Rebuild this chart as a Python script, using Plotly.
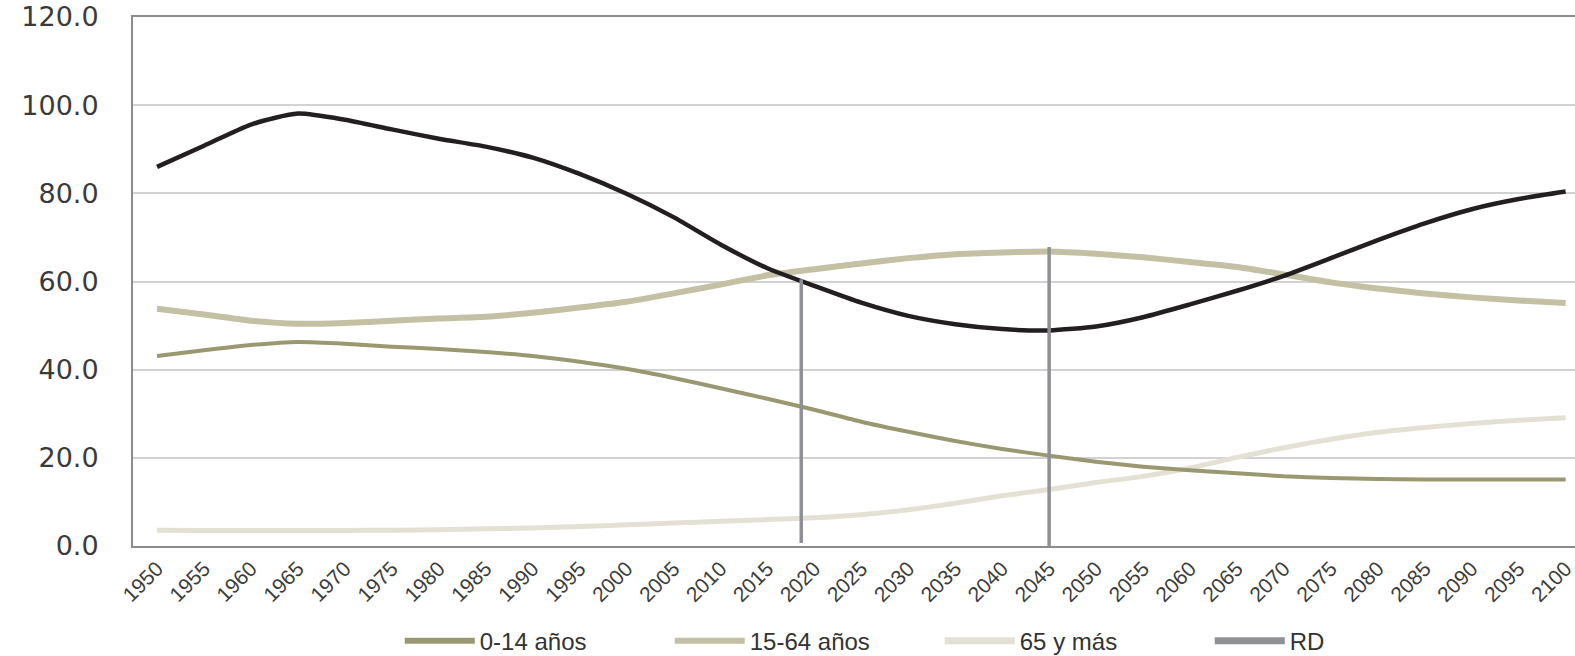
import plotly.graph_objects as go

years = list(range(1950, 2101, 5))

rd = [86.0, 90.8, 95.6, 98.1, 96.7, 94.5, 92.4, 90.6, 88.1, 84.4,
      79.9, 74.6, 68.4, 63.0, 59.0, 55.2, 52.2, 50.3, 49.2, 48.9,
      49.8, 51.9, 54.8, 57.9, 61.3, 65.3, 69.4, 73.2, 76.4, 78.7, 80.4]

age_15_64 = [53.8, 52.5, 51.1, 50.4, 50.6, 51.1, 51.6, 52.0, 52.9, 54.1,
             55.4, 57.3, 59.3, 61.4, 62.8, 64.1, 65.3, 66.2, 66.6, 66.8,
             66.3, 65.5, 64.4, 63.3, 61.6, 59.8, 58.4, 57.3, 56.4, 55.7, 55.1]

age_0_14 = [43.1, 44.4, 45.6, 46.3, 45.9, 45.2, 44.7, 44.0, 43.1, 41.8,
            40.2, 38.1, 35.8, 33.4, 30.9, 28.2, 25.9, 23.8, 22.0, 20.5,
            19.1, 18.0, 17.2, 16.5, 15.8, 15.4, 15.2, 15.1, 15.1, 15.1, 15.1]

age_65 = [3.6, 3.5, 3.5, 3.5, 3.5, 3.6, 3.7, 3.9, 4.1, 4.4,
          4.8, 5.2, 5.6, 6.0, 6.4, 7.1, 8.2, 9.7, 11.4, 12.8,
          14.4, 15.8, 17.7, 20.1, 22.3, 24.2, 25.8, 26.9, 27.8, 28.5, 29.1]

# vertical reference lines (RD markers)
rd_lines_x = [2018.6, 2018.6, None, 2045, 2045]
rd_lines_y = [0.7, 60.5, None, 0, 67.8]

legend_names = ["0-14 años", "15-64 años", "65 y más", "RD"]
legend_colors = ["#9a9871", "#c3c0a3", "#e4e0d3", "#8f9095"]

fig = go.Figure()

spl = dict(shape="spline", smoothing=0.6)
fig.add_trace(go.Scatter(x=years, y=age_65, mode="lines", showlegend=False,
                         line=dict(color="#e4e0d3", width=5, **spl)))
fig.add_trace(go.Scatter(x=years, y=age_0_14, mode="lines", showlegend=False,
                         line=dict(color="#9a9871", width=4, **spl)))
fig.add_trace(go.Scatter(x=years, y=age_15_64, mode="lines", showlegend=False,
                         line=dict(color="#c3c0a3", width=6, **spl)))
fig.add_trace(go.Scatter(x=years, y=rd, mode="lines", showlegend=False,
                         line=dict(color="#231f20", width=4.5, **spl)))
fig.add_trace(go.Scatter(x=rd_lines_x, y=rd_lines_y, mode="lines", showlegend=False,
                         line=dict(color="#8f9095", width=3.5)))

# legend entries (thicker samples, as in the reference)
for name, col, w in zip(legend_names, legend_colors, [6, 6, 7, 7]):
    fig.add_trace(go.Scatter(x=[None], y=[None], mode="lines", name=name,
                             line=dict(color=col, width=w)))

fig.update_layout(
    width=1575, height=664,
    margin=dict(l=133, r=0, t=17, b=114),
    paper_bgcolor="white", plot_bgcolor="white",
    hovermode=False,
    font=dict(family="Liberation Sans, Arial, sans-serif", color="#333333"),
    legend=dict(orientation="h", x=0.185, xanchor="left", y=-0.18, yanchor="middle",
                font=dict(size=24, color="#333333"), itemwidth=70,
                entrywidth=185, entrywidthmode="pixels", traceorder="normal"),
    xaxis=dict(range=[1947.44, 2101.0], tickmode="linear", tick0=1950, dtick=5,
               tickangle=-45, tickfont=dict(size=21, color="#3c3c3c"),
               showgrid=False, showline=True, linecolor="#8c8c8c", linewidth=2,
               mirror=True, ticks="", zeroline=False, automargin=False,
               ticklabeloverflow="allow"),
    yaxis=dict(range=[0, 120], tickmode="linear", tick0=0, dtick=20, tickformat=".1f",
               tickfont=dict(family="DejaVu Sans, sans-serif", size=27, color="#3a3a3a"),
               showgrid=True, gridcolor="#d2d2d2", gridwidth=1.5,
               showline=True, linecolor="#8c8c8c", linewidth=2, mirror=True,
               ticks="", zeroline=False, ticklabelstandoff=27, automargin=False),
)

page_fix = (
    "document.documentElement.style.margin='0';"
    "document.documentElement.style.overflow='hidden';"
    "document.body.style.margin='0';"
    "document.body.style.overflow='hidden';"
)

fig.write_html("out.html", config={"displayModeBar": False}, post_script=page_fix)
